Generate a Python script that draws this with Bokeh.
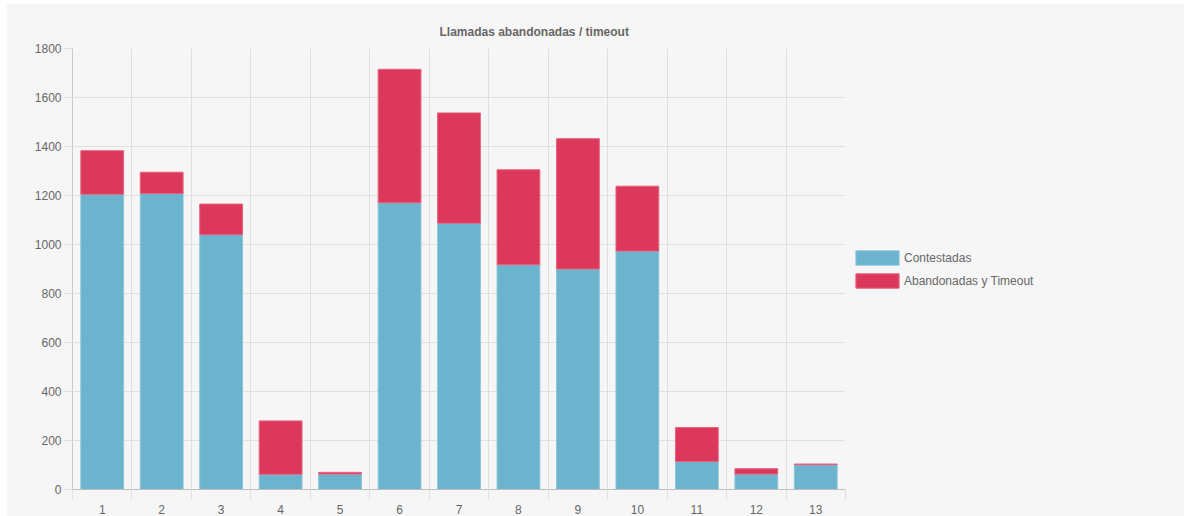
from bokeh.plotting import figure
from bokeh.models import ColumnDataSource, FixedTicker, Legend, LegendItem
from bokeh.embed import file_html
from bokeh.resources import INLINE

# ---- data ----
dias = ["1", "2", "3", "4", "5", "6", "7", "8", "9", "10", "11", "12", "13"]
contestadas = [1205, 1208, 1040, 62, 63, 1170, 1087, 917, 900, 973, 114, 63, 101]
abandonadas = [178, 87, 125, 218, 7, 545, 450, 388, 532, 265, 139, 22, 3]
series = ["Contestadas", "Abandonadas y Timeout"]
colores = ["#6cb3ce", "#db385b"]
bordes = ["#8cc6dc", "#e8637f"]
y_ticks = [0, 200, 400, 600, 800, 1000, 1200, 1400, 1600, 1800]
titulo = "Llamadas abandonadas / timeout"

FONT = "Liberation Sans"
TXT = "#666666"
GRID = "#e0e0e0"

x = list(range(1, len(dias) + 1))
src = ColumnDataSource(dict(x=x, contestadas=contestadas, abandonadas=abandonadas))

p = figure(width=1178, frame_width=773, frame_height=441,
           x_range=(0.5, len(dias) + 0.5), y_range=(0, 1800),
           output_backend="svg", toolbar_location=None,
           min_border_left=66, min_border_top=45, min_border_right=0, min_border_bottom=0,
           background_fill_color="#f6f6f6", border_fill_color="#f6f6f6")
p.margin = (3, 0, 0, 6)
p.outline_line_color = None

rs = p.vbar_stack(["contestadas", "abandonadas"], x="x", width=0.72, source=src,
                  fill_color=colores, line_color=bordes, line_width=1)

# title
p.title.text = titulo
p.title.align = "left"
p.title.offset = 367
p.title.text_font = FONT
p.title.text_font_size = "12px"
p.title.text_font_style = "bold"
p.title.text_color = TXT
p.title.standoff = 19

# x axis
bounds = [i + 0.5 for i in range(0, len(dias) + 1)]
p.xaxis.ticker = FixedTicker(ticks=x, minor_ticks=bounds)
p.xaxis.major_label_overrides = {xi: d for xi, d in zip(x, dias)}
p.xaxis.major_tick_out = 0
p.xaxis.major_tick_in = 0
p.xaxis.minor_tick_out = 10
p.xaxis.minor_tick_in = 0
p.xaxis.minor_tick_line_color = GRID
p.xaxis.axis_line_color = "#bdbdbd"
p.xaxis.major_label_standoff = 5
p.xaxis.major_label_text_font = FONT
p.xaxis.major_label_text_font_size = "12px"
p.xaxis.major_label_text_color = TXT

# y axis
p.yaxis.ticker = FixedTicker(ticks=y_ticks)
p.yaxis.major_tick_out = 9
p.yaxis.major_tick_in = 0
p.yaxis.major_tick_line_color = GRID
p.yaxis.minor_tick_line_color = None
p.yaxis.axis_line_color = "#c8c8c8"
p.yaxis.major_label_standoff = 2
p.yaxis.major_label_text_font = FONT
p.yaxis.major_label_text_font_size = "12px"
p.yaxis.major_label_text_color = TXT

# grids
p.xgrid.ticker = FixedTicker(ticks=bounds)
p.xgrid.grid_line_color = GRID
p.ygrid.grid_line_color = GRID

legend = Legend(items=[LegendItem(label=s, renderers=[r]) for s, r in zip(series, rs)],
                location="center_left", glyph_width=54, glyph_height=18, label_height=14,
                spacing=5, label_standoff=0, padding=0, margin=5,
                border_line_color=None, background_fill_alpha=0,
                label_text_font=FONT, label_text_font_size="12px", label_text_color=TXT)
p.add_layout(legend, "right")

open("out.html", "w").write(file_html(p, INLINE))
